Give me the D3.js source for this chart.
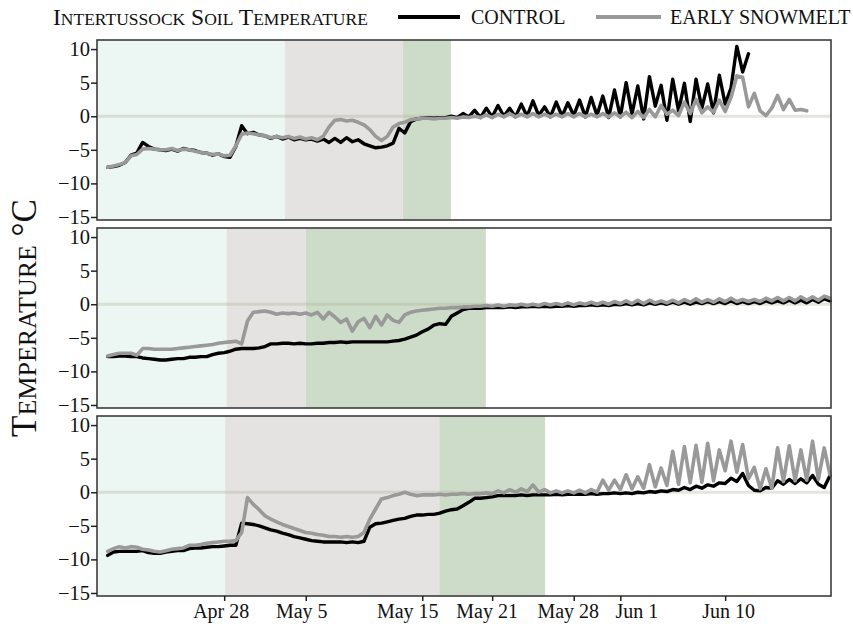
<!DOCTYPE html>
<html>
<head>
<meta charset="utf-8">
<script src="https://cdn.jsdelivr.net/npm/d3@7"></script>
<style>
  body { margin: 0; background: #fff; }
  svg { display: block; }
  text { font-family: "Liberation Serif", "Times New Roman", serif; fill: #111; }
</style>
</head>
<body>
<svg id="chart" width="853" height="629"></svg>
<script>
// ---- data: 12-hourly soil temperature (°C), first reading Apr 18 00:00 ----
const seriesStart = Date.UTC(2014, 3, 18, 0);
const stepHours = 12;
const seriesNames = ["CONTROL", "EARLY SNOWMELT"];

const p1Control = [
  -7.6,-7.5,-7.3,-6.9,-5.8,-5.5,-3.9,-4.5,-4.9,-5.0,-5.1,-4.9,-5.2,-4.8,-5.0,-5.1,-5.4,-5.5,-5.8,-5.6,
  -6.0,-6.1,-4.5,-1.4,-2.6,-2.4,-2.8,-2.9,-3.3,-3.0,-3.4,-3.1,-3.5,-3.3,-3.5,-3.4,-3.7,-3.4,-3.9,-3.3,
  -3.9,-3.2,-3.8,-3.5,-4.1,-4.4,-4.7,-4.6,-4.4,-4.0,-1.8,-2.5,-0.8,-0.4,-0.3,-0.2,-0.3,-0.2,-0.2,0.0,
  -0.2,0.4,-0.1,0.9,-0.2,1.2,-0.1,1.6,0.0,1.2,-0.1,1.8,0.0,2.3,0.1,1.4,-0.1,2.1,0.0,2.0,
  0.1,2.4,-0.1,2.8,0.1,3.0,-0.2,3.9,-0.1,5.0,0.3,4.5,-0.4,5.9,1.5,4.6,-0.6,5.5,0.8,4.9,
  -0.8,5.5,1.2,4.8,0.5,6.1,1.8,4.2,10.4,6.6,9.3
];
const p1Early = [
  -7.6,-7.4,-7.2,-6.9,-5.9,-5.7,-4.9,-4.8,-4.9,-5.0,-5.0,-4.8,-5.1,-4.9,-5.0,-5.2,-5.4,-5.5,-5.7,-5.6,
  -5.9,-5.8,-4.4,-2.7,-2.5,-2.6,-2.8,-2.9,-3.2,-3.0,-3.2,-3.0,-3.3,-3.1,-3.4,-3.2,-3.5,-3.0,-1.6,-0.6,
  -0.5,-0.7,-0.6,-0.9,-1.3,-2.0,-3.0,-3.6,-3.0,-1.6,-1.1,-0.9,-0.5,-0.4,-0.3,-0.3,-0.4,-0.3,-0.3,-0.2,
  -0.3,-0.1,-0.2,0.0,-0.2,0.2,-0.2,0.3,-0.1,0.4,-0.1,0.3,-0.1,0.4,-0.1,0.3,-0.1,0.3,-0.1,0.4,
  -0.1,0.4,-0.1,0.3,-0.1,0.4,-0.1,0.5,-0.1,0.6,-0.2,0.7,-0.2,1.0,-0.1,1.6,0.3,0.9,0.1,2.1,
  0.4,2.5,0.5,1.4,0.6,2.4,0.7,2.8,6.0,5.8,1.4,3.4,0.8,0.1,1.2,3.1,1.0,2.5,0.9,1.0,
  0.8
];
const p2Control = [
  -7.8,-7.8,-7.7,-7.7,-7.8,-7.8,-8.0,-8.1,-8.2,-8.3,-8.3,-8.2,-8.1,-8.1,-7.9,-7.9,-7.8,-7.8,-7.5,-7.3,
  -7.2,-7.0,-6.7,-6.6,-6.6,-6.6,-6.5,-6.3,-5.9,-5.9,-5.8,-5.8,-5.9,-5.8,-5.9,-5.9,-5.8,-5.8,-5.7,-5.7,
  -5.6,-5.7,-5.6,-5.6,-5.6,-5.6,-5.6,-5.6,-5.6,-5.5,-5.4,-5.2,-4.9,-4.6,-4.1,-3.7,-3.1,-2.9,-3.0,-1.8,
  -1.3,-0.8,-0.6,-0.6,-0.6,-0.5,-0.5,-0.5,-0.5,-0.4,-0.5,-0.4,-0.4,-0.3,-0.4,-0.3,-0.4,-0.3,-0.3,-0.2,
  -0.3,-0.2,-0.2,-0.1,-0.2,-0.1,-0.2,0.0,-0.1,0.1,-0.1,0.1,-0.1,0.2,0.0,0.2,0.0,0.3,0.0,0.3,
  0.0,0.3,0.1,0.4,0.1,0.4,0.1,0.5,0.1,0.4,0.1,0.4,0.1,0.5,0.2,0.5,0.2,0.6,0.2,0.6,
  0.2,0.7,0.3,0.8,0.5
];
const p2Early = [
  -7.7,-7.5,-7.3,-7.3,-7.3,-7.6,-6.6,-6.6,-6.7,-6.7,-6.7,-6.7,-6.6,-6.5,-6.4,-6.3,-6.2,-6.1,-6.0,-5.8,
  -5.7,-5.6,-5.5,-5.9,-2.5,-1.2,-1.1,-1.0,-1.2,-1.5,-1.3,-1.4,-1.3,-1.5,-1.3,-1.6,-1.2,-2.2,-1.2,-1.9,
  -2.7,-2.2,-4.0,-2.6,-2.1,-3.5,-1.8,-3.1,-1.6,-2.4,-2.7,-1.6,-1.2,-1.0,-0.9,-0.8,-0.7,-0.6,-0.6,-0.5,
  -0.5,-0.4,-0.4,-0.3,-0.3,-0.2,-0.3,-0.1,-0.3,-0.1,-0.2,0.0,-0.2,0.0,-0.2,0.1,-0.1,0.1,-0.1,0.2,
  -0.1,0.2,0.0,0.3,0.0,0.3,0.0,0.4,0.1,0.5,0.1,0.6,0.1,0.6,0.2,0.5,0.2,0.6,0.2,0.7,
  0.3,0.8,0.3,0.7,0.3,0.8,0.4,0.9,0.4,0.7,0.4,0.7,0.4,0.9,0.5,1.0,0.5,1.0,0.5,1.1,
  0.6,1.1,0.6,1.2,0.9
];
const p3Control = [
  -9.4,-8.9,-8.8,-8.8,-8.8,-8.8,-8.7,-9.0,-9.1,-9.1,-8.9,-8.8,-8.7,-8.7,-8.4,-8.3,-8.3,-8.2,-8.1,-8.1,
  -8.0,-7.9,-7.9,-4.6,-4.7,-4.8,-5.0,-5.3,-5.6,-5.8,-6.1,-6.3,-6.6,-6.8,-7.0,-7.2,-7.3,-7.4,-7.4,-7.4,
  -7.4,-7.5,-7.4,-7.5,-7.3,-5.2,-4.7,-4.6,-4.4,-4.2,-4.0,-3.9,-3.6,-3.4,-3.4,-3.3,-3.3,-3.1,-2.8,-2.6,
  -2.5,-2.0,-1.5,-0.9,-0.9,-0.8,-0.7,-0.5,-0.5,-0.5,-0.5,-0.4,-0.5,-0.4,-0.4,-0.4,-0.4,-0.3,-0.4,-0.3,
  -0.3,-0.3,-0.3,-0.2,-0.3,-0.2,-0.2,-0.1,-0.2,-0.1,-0.2,0.0,-0.1,0.1,0.0,0.2,0.1,0.4,0.3,0.7,
  0.4,0.9,0.6,1.1,0.9,1.4,1.3,2.1,1.6,2.8,1.0,0.3,0.2,0.7,0.6,1.7,1.2,1.9,1.3,2.0,
  1.4,2.5,1.2,0.7,2.5
];
const p3Early = [
  -8.8,-8.4,-8.1,-8.3,-8.1,-8.2,-8.5,-8.6,-8.8,-8.9,-8.7,-8.5,-8.4,-8.3,-7.9,-7.9,-7.8,-7.6,-7.5,-7.4,
  -7.3,-7.3,-7.2,-6.0,-0.8,-1.8,-2.6,-3.5,-4.0,-4.4,-4.8,-5.1,-5.4,-5.7,-6.0,-6.1,-6.3,-6.4,-6.6,-6.6,
  -6.7,-6.6,-6.7,-6.6,-6.0,-4.0,-2.5,-1.0,-0.8,-0.5,-0.3,0.0,-0.3,-0.5,-0.4,-0.4,-0.4,-0.3,-0.4,-0.3,
  -0.3,-0.2,-0.3,-0.2,-0.2,-0.1,-0.2,0.2,-0.1,0.4,0.0,0.5,0.1,1.1,0.0,0.4,-0.1,0.2,-0.1,0.2,
  -0.1,0.3,-0.1,0.4,0.0,1.8,0.3,1.8,0.4,2.6,0.5,2.3,0.6,4.1,0.8,3.6,1.0,6.1,1.2,6.8,
  1.4,7.0,1.5,7.3,1.7,6.3,3.2,7.6,3.0,7.1,2.0,3.7,0.5,3.5,0.6,6.6,1.6,6.9,1.7,6.3,
  1.8,7.6,1.9,6.6,2.6
];

// ---- axes ----
const xDomain = [Date.UTC(2014, 3, 17, 2), Date.UTC(2014, 5, 19, 2)];
const tickDates = [Date.UTC(2014,3,28), Date.UTC(2014,4,5), Date.UTC(2014,4,15), Date.UTC(2014,4,21),
                   Date.UTC(2014,4,28), Date.UTC(2014,5,1), Date.UTC(2014,5,10)];
const tickLabels = ["Apr 28", "May 5", "May 15", "May 21", "May 28", "Jun 1", "Jun 10"];
const yTicks = [-15, -10, -5, 0, 5, 10];
const yDomain = [-15.45, 11.35];

// ---- snow/melt phase boundaries per panel: end of snow cover, end of melt, end of saturated soil ----
const phases1 = [Date.UTC(2014,4,3,5), Date.UTC(2014,4,13,8), Date.UTC(2014,4,17,11)];
const phases2 = [Date.UTC(2014,3,28,5), Date.UTC(2014,4,5,0), Date.UTC(2014,4,20,11)];
const phases3 = [Date.UTC(2014,3,28,2), Date.UTC(2014,4,16,11), Date.UTC(2014,4,25,13)];
const phaseColors = ["#ecf6f2", "#e4e3e1", "#cddcc9"];

const controlColor = "#000000";
const earlyColor = "#999999";

const svg = d3.select("#chart");
const margin = { left: 97, right: 22 };
const panelTops = [40, 228, 416];
const panelH = 180;
const width = 853 - margin.left - margin.right;
// horizontal label offsets so neighbouring date labels do not collide
const labelShift = [-3.5, -4.5, -15, -5.5, -6, 16, 3];

const x = d3.scaleUtc().domain(xDomain).range([margin.left, margin.left + width]);
const timeAt = k => new Date(seriesStart + k * stepHours * 3600e3);

const panels = [
  { control: p1Control, early: p1Early, phases: phases1 },
  { control: p2Control, early: p2Early, phases: phases2 },
  { control: p3Control, early: p3Early, phases: phases3 }
];

panels.forEach((p, i) => {
  const top = panelTops[i];
  const y = d3.scaleLinear().domain(yDomain).range([top + panelH, top]);
  const g = svg.append("g");

  // phase bands
  const edges = [xDomain[0], ...p.phases];
  for (let j = 0; j < 3; j++) {
    g.append("rect")
      .attr("x", x(edges[j])).attr("width", x(edges[j + 1]) - x(edges[j]))
      .attr("y", top).attr("height", panelH)
      .attr("fill", phaseColors[j]);
  }

  // zero reference line
  g.append("line")
    .attr("x1", x(xDomain[0])).attr("x2", x(xDomain[1]))
    .attr("y1", y(0)).attr("y2", y(0))
    .attr("stroke", "rgba(170,170,140,0.3)").attr("stroke-width", 3);

  const line = d3.line().x((v, k) => x(timeAt(k))).y(v => y(v));
  g.append("path").datum(p.control).attr("d", line)
    .attr("fill", "none").attr("stroke", controlColor).attr("stroke-width", 3.4)
    .attr("stroke-linejoin", "round").attr("stroke-linecap", "round");
  g.append("path").datum(p.early).attr("d", line)
    .attr("fill", "none").attr("stroke", earlyColor).attr("stroke-width", 3.6)
    .attr("stroke-linejoin", "round").attr("stroke-linecap", "round");

  // frame
  g.append("rect")
    .attr("x", margin.left).attr("y", top).attr("width", width).attr("height", panelH)
    .attr("fill", "none").attr("stroke", "#3c3c3c").attr("stroke-width", 1.6);

  // y axis
  const ya = svg.append("g").attr("transform", `translate(${margin.left},0)`)
    .call(d3.axisLeft(y).tickValues(yTicks).tickSize(6).tickPadding(1).tickFormat(d3.format("d")));
  ya.select(".domain").remove();
  ya.selectAll(".tick line").attr("stroke", "#222").attr("stroke-width", 1.5);
  ya.selectAll(".tick text").style("font-family", "Liberation Serif").style("font-size", "20.5px").attr("fill", "#111");

  if (i === 2) {
    const xa = svg.append("g").attr("transform", `translate(0,${top + panelH})`)
      .call(d3.axisBottom(x).tickValues(tickDates.map(t => new Date(t)))
        .tickSize(5).tickPadding(3).tickFormat((d, k) => tickLabels[k]));
    xa.select(".domain").remove();
    xa.selectAll(".tick line").attr("stroke", "#222").attr("stroke-width", 1.5);
    xa.selectAll(".tick text").style("font-family", "Liberation Serif").style("font-size", "20px")
      .attr("fill", "#111").attr("dx", (d, k) => labelShift[k]);
  }
});

// title (small caps)
function smallCaps(sel, parts, big, small) {
  parts.forEach(([cap, rest]) => {
    sel.append("tspan").attr("font-size", big).text(cap);
    if (rest) sel.append("tspan").attr("font-size", small).text(rest);
  });
}
const title = svg.append("text").attr("x", 53).attr("y", 25);
smallCaps(title, [["I", "NTERTUSSOCK"], [" S", "OIL"], [" T", "EMPERATURE"]], 23.5, 17.5);

// legend
const legend = svg.append("g");
[[398, 460, controlColor, 471, seriesNames[0]], [596, 661, earlyColor, 670, seriesNames[1]]]
  .forEach(([x1, x2, c, tx, label]) => {
    legend.append("line").attr("x1", x1).attr("x2", x2).attr("y1", 17).attr("y2", 17)
      .attr("stroke", c).attr("stroke-width", 4);
    legend.append("text").attr("x", tx).attr("y", 24).attr("font-size", 20).text(label);
  });

// y axis title
const yTitle = svg.append("text")
  .attr("transform", `translate(36,${(panelTops[0] + panelTops[2] + panelH) / 2}) rotate(-90)`)
  .attr("text-anchor", "middle");
yTitle.append("tspan").attr("font-size", 35).text("T");
yTitle.append("tspan").attr("font-size", 26).text("EMPERATURE");
yTitle.append("tspan").attr("font-size", 35).text(" °C");
</script>
</body>
</html>
